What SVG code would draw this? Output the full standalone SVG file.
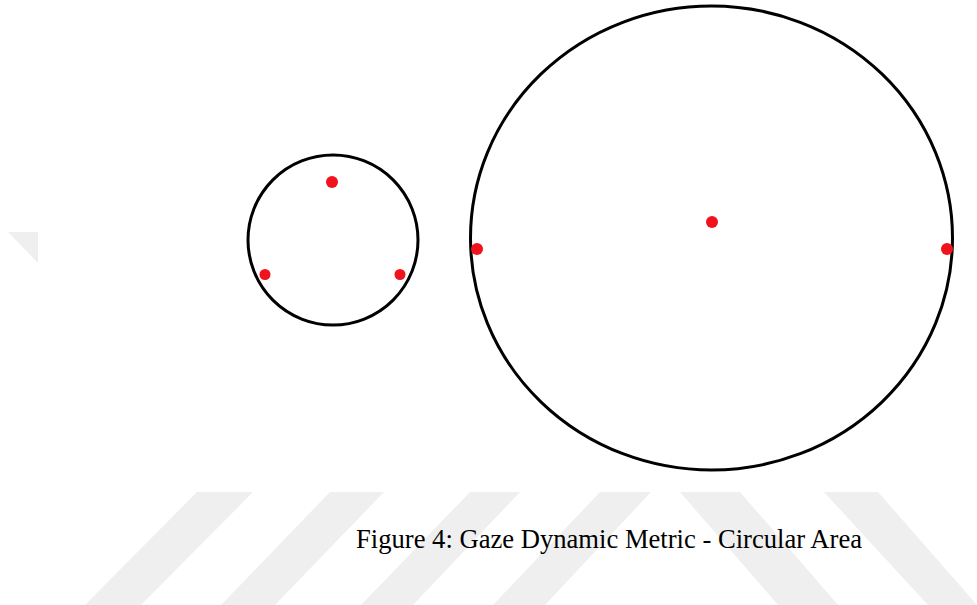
<svg xmlns="http://www.w3.org/2000/svg" width="977" height="605" viewBox="0 0 977 605">
<style>
.wm{fill:#efefef;stroke:none}
.ring{fill:none;stroke:#000;stroke-width:3}
.dot{fill:#f0131e;stroke:none}
.cap{font-family:"Liberation Serif","Times New Roman",serif;font-size:26.5px;fill:#000}
</style>
<rect width="977" height="605" fill="#fff"/>
<g id="watermark">
<polygon class="wm" points="8,232 38,232 38,263"/>
<polygon class="wm" points="197,492 253,492 141,605 85,605"/>
<polygon class="wm" points="330,492 384,492 275,605 221,605"/>
<polygon class="wm" points="470,492 520,492 413,605 361,605"/>
<polygon class="wm" points="600,492 651,492 545,605 493,605"/>
<polygon class="wm" points="680,492 740,492 838,605 778,605"/>
<polygon class="wm" points="824,492 878,492 977,605 928,605"/>
</g>
<g id="small-circle">
<circle class="ring" cx="333" cy="240" r="85"/>
<circle class="dot" cx="332" cy="182" r="6"/>
<circle class="dot" cx="265" cy="274.5" r="5.5"/>
<circle class="dot" cx="400" cy="274.5" r="5.5"/>
</g>
<g id="large-circle">
<ellipse class="ring" cx="711.5" cy="238" rx="241" ry="232"/>
<circle class="dot" cx="712" cy="222" r="6"/>
<circle class="dot" cx="477" cy="249" r="6"/>
<circle class="dot" cx="947" cy="249" r="6"/>
</g>
<g id="connectors"></g>
<text class="cap" x="356" y="548" textLength="506" lengthAdjust="spacingAndGlyphs">Figure 4: Gaze Dynamic Metric - Circular Area</text>
</svg>
